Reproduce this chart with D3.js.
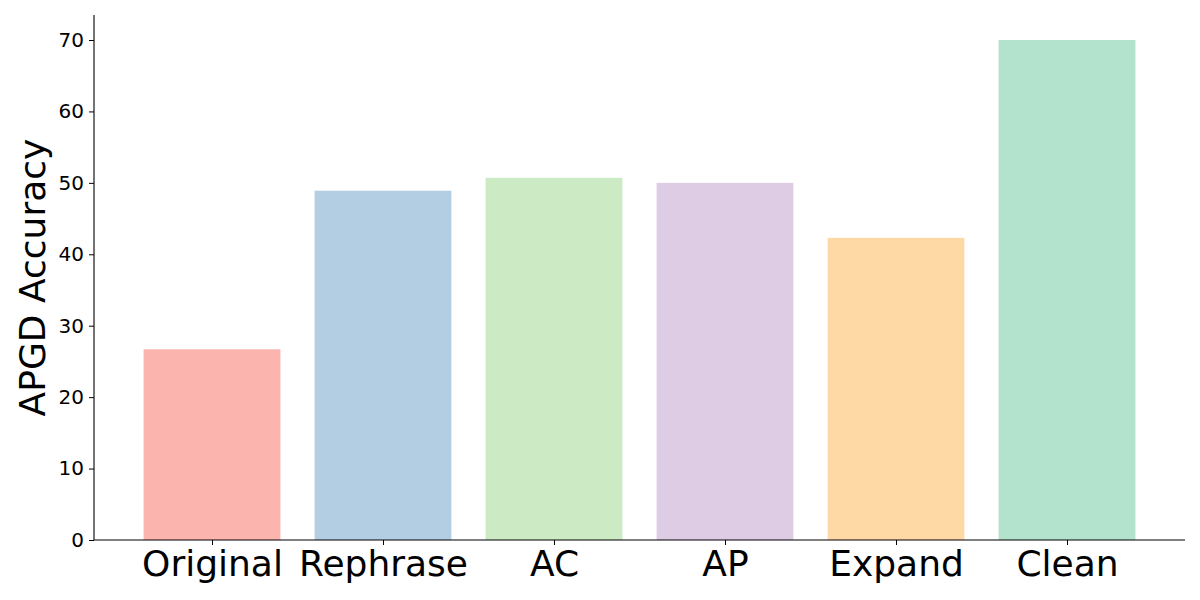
<!DOCTYPE html>
<html>
<head>
<meta charset="utf-8">
<script src="https://cdn.jsdelivr.net/npm/d3@7"></script>
<style>
    body { margin: 0; background: #fff; }
    svg { font-family: "DejaVu Sans", sans-serif; }
</style>
</head>
<body>
<svg id="chart" width="1200" height="600"></svg>
<script>
// chart data
const categories = ["Original", "Rephrase", "AC", "AP", "Expand", "Clean"];
const accuracy = [26.7, 48.9, 50.7, 50.0, 42.3, 70.0];
const barColors = ["#fbb4ae", "#b3cde3", "#ccebc5", "#decbe4", "#fed9a6", "#b3e2cd"];
const yTicks = [0, 10, 20, 30, 40, 50, 60, 70];

const margin = { top: 15, right: 15, bottom: 60, left: 94 };
const width = 1200 - margin.left - margin.right;
const height = 600 - margin.top - margin.bottom;

const svg = d3.select("#chart");
const g = svg.append("g")
    .attr("transform", "translate(" + margin.left + "," + margin.top + ")");

// matplotlib-like band: bar width 0.8, 5% margins on each side
const n = categories.length;
const xLin = d3.scaleLinear()
    .domain([-0.4 - 0.05 * (n - 0.2), n - 0.6 + 0.05 * (n - 0.2)])
    .range([0, width]);
const barW = xLin(0.8) - xLin(0);

const y = d3.scaleLinear()
    .domain([0, 70 * 1.05])
    .range([height, 0]);

g.selectAll(".bar")
    .data(accuracy)
    .enter()
    .append("rect")
    .attr("class", "bar")
    .attr("x", (d, i) => xLin(i) - barW / 2)
    .attr("y", d => y(d))
    .attr("width", barW)
    .attr("height", d => height - y(d))
    .attr("fill", (d, i) => barColors[i]);

// y axis
const yAxis = g.append("g")
    .call(d3.axisLeft(y).tickValues(yTicks).tickSize(5).tickPadding(5).tickFormat(d3.format("d")));
yAxis.attr("font-size", null).attr("font-family", null);
yAxis.selectAll("text").style("font-size", "20px").attr("fill", "#000");
yAxis.selectAll("line").attr("stroke", "#000").attr("stroke-width", 1);
yAxis.select(".domain").attr("stroke", "#000").attr("stroke-width", 1.1)
    .attr("d", "M0," + height + "V0");

// x axis
const xAxis = g.append("g")
    .attr("transform", "translate(0," + height + ")")
    .call(d3.axisBottom(xLin).tickValues(d3.range(n)).tickSize(5).tickPadding(5)
        .tickFormat(i => categories[i]));
xAxis.attr("font-size", null).attr("font-family", null);
xAxis.selectAll("text").style("font-size", "36px").attr("fill", "#000");
xAxis.selectAll("line").attr("stroke", "#000").attr("stroke-width", 1);
xAxis.select(".domain").attr("stroke", "#000").attr("stroke-width", 1.1)
    .attr("d", "M0,0H" + width);

// y label
g.append("text")
    .attr("transform", "translate(" + (32 - margin.left) + "," + (height / 2) + ") rotate(-90)")
    .attr("text-anchor", "middle")
    .attr("dominant-baseline", "central")
    .style("font-size", "36px")
    .attr("fill", "#000")
    .text("APGD Accuracy");
</script>
</body>
</html>
